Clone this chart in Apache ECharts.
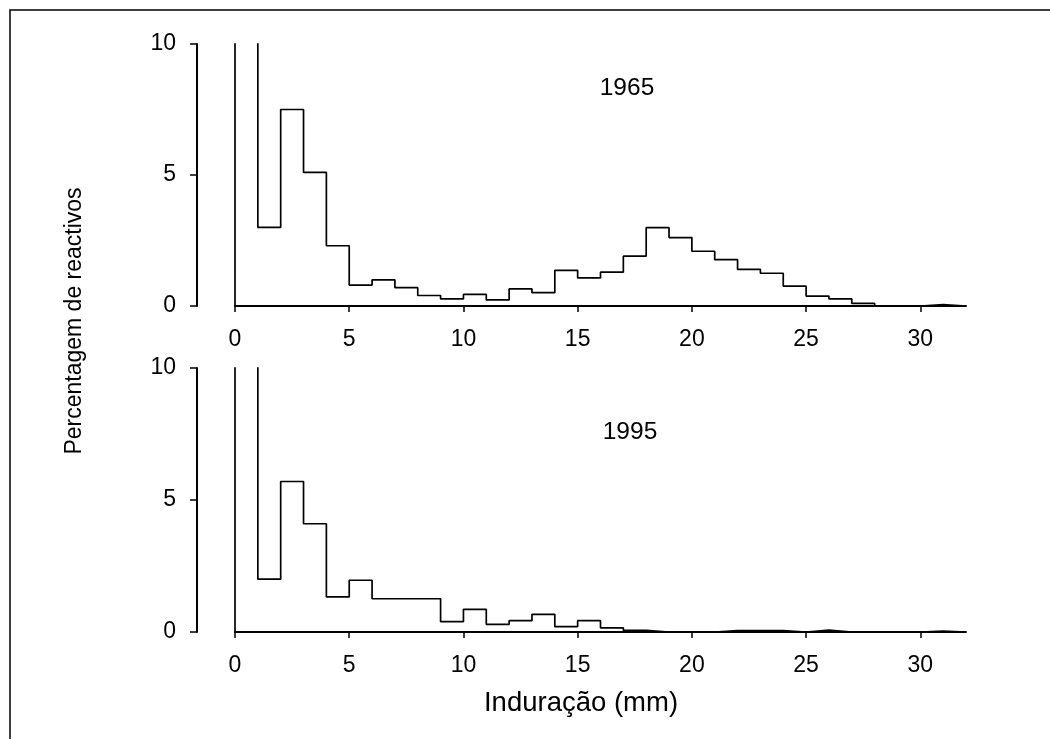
<!DOCTYPE html>
<html>
<head>
<meta charset="utf-8">
<script src="https://cdn.jsdelivr.net/npm/echarts@6/dist/echarts.min.js"></script>
<style>
html,body{margin:0;padding:0;background:#fff;}
#chart{width:1050px;height:739px;}
</style>
</head>
<body>
<div id="chart"></div>
<script>
// Bin left edges (mm), each bin is 1 mm wide
var binEdges = [0,1,2,3,4,5,6,7,8,9,10,11,12,13,14,15,16,17,18,19,20,21,22,23,24,25,26,27,28,29,30,31];
var binEnd = 32;
// Percentage of reactors per bin (first bin is off-scale, estimated)
var pct1965 = [40,3.0,7.5,5.1,2.3,0.8,1.0,0.7,0.4,0.27,0.44,0.23,0.65,0.51,1.36,1.07,1.29,1.90,2.99,2.61,2.09,1.77,1.40,1.25,0.76,0.38,0.27,0.1,0,0,0.05,0];
var pct1995 = [60,2.0,5.7,4.1,1.33,1.96,1.26,1.26,1.26,0.39,0.86,0.29,0.43,0.67,0.2,0.43,0.16,0.06,0,0,0,0.05,0.05,0.05,0,0.07,0,0,0,0,0.03,0];
var xTicks = [0,5,10,15,20,25,30];
var panelLabels = ['1965','1995'];
var xTitle = 'Induração (mm)';
var yTitle = 'Percentagem de reactivos';

var FONT = '"Liberation Sans", Arial, Helvetica, sans-serif';

function stepData(vals){
  var d = [[binEdges[0],0]];
  for (var i=0;i<binEdges.length;i++) d.push([binEdges[i], vals[i]]);
  d.push([binEnd,0]);
  return d;
}

function xAxisDef(gi){
  return {
    type:'value', gridIndex:gi, min:0, max:binEnd,
    axisLine:{show:true, onZero:false, lineStyle:{color:'#000', width:2}},
    axisTick:{show:true, length:6, customValues:xTicks, lineStyle:{color:'#000', width:1.5}},
    axisLabel:{show:true, customValues:xTicks, margin:22, color:'#000', fontSize:23, fontFamily:FONT},
    splitLine:{show:false}
  };
}
function yAxisDef(gi){
  return {
    type:'value', gridIndex:gi, min:0, max:10, interval:5, offset:38,
    axisLine:{show:true, onZero:false, lineStyle:{color:'#000', width:2}},
    axisTick:{show:true, length:7, lineStyle:{color:'#000', width:1.5}},
    axisLabel:{show:true, margin:21, color:'#000', fontSize:23, fontFamily:FONT},
    splitLine:{show:false}
  };
}

var chart = echarts.init(document.getElementById('chart'), null, {renderer:'canvas'});
chart.setOption({
  animation:false,
  backgroundColor:'#fff',
  grid:[
    {left:235, top:44, width:731, height:262},
    {left:235, top:368, width:731, height:264}
  ],
  xAxis:[xAxisDef(0), xAxisDef(1)],
  yAxis:[yAxisDef(0), yAxisDef(1)],
  series:[
    {type:'line', xAxisIndex:0, yAxisIndex:0, step:'end', showSymbol:false, clip:true,
     lineStyle:{color:'#000', width:1.7}, data:stepData(pct1965)},
    {type:'line', xAxisIndex:1, yAxisIndex:1, step:'end', showSymbol:false, clip:true,
     lineStyle:{color:'#000', width:1.7}, data:stepData(pct1995)}
  ],
  graphic:[
    {type:'rect', shape:{x:10, y:10, width:1100, height:800}, style:{fill:null, stroke:'#000', lineWidth:1.5}, silent:true},
    {type:'text', x:627, y:88, style:{text:panelLabels[0], font:'24.5px '+FONT, fill:'#000', textAlign:'center', textVerticalAlign:'middle'}},
    {type:'text', x:630, y:432, style:{text:panelLabels[1], font:'24.5px '+FONT, fill:'#000', textAlign:'center', textVerticalAlign:'middle'}},
    {type:'text', x:581, y:703, style:{text:xTitle, font:'27.5px '+FONT, fill:'#000', textAlign:'center', textVerticalAlign:'middle'}},
    {type:'text', x:75, y:321, rotation:Math.PI/2, style:{text:yTitle, font:'23px '+FONT, fill:'#000', textAlign:'center', textVerticalAlign:'middle'}}
  ]
});
</script>
</body>
</html>
